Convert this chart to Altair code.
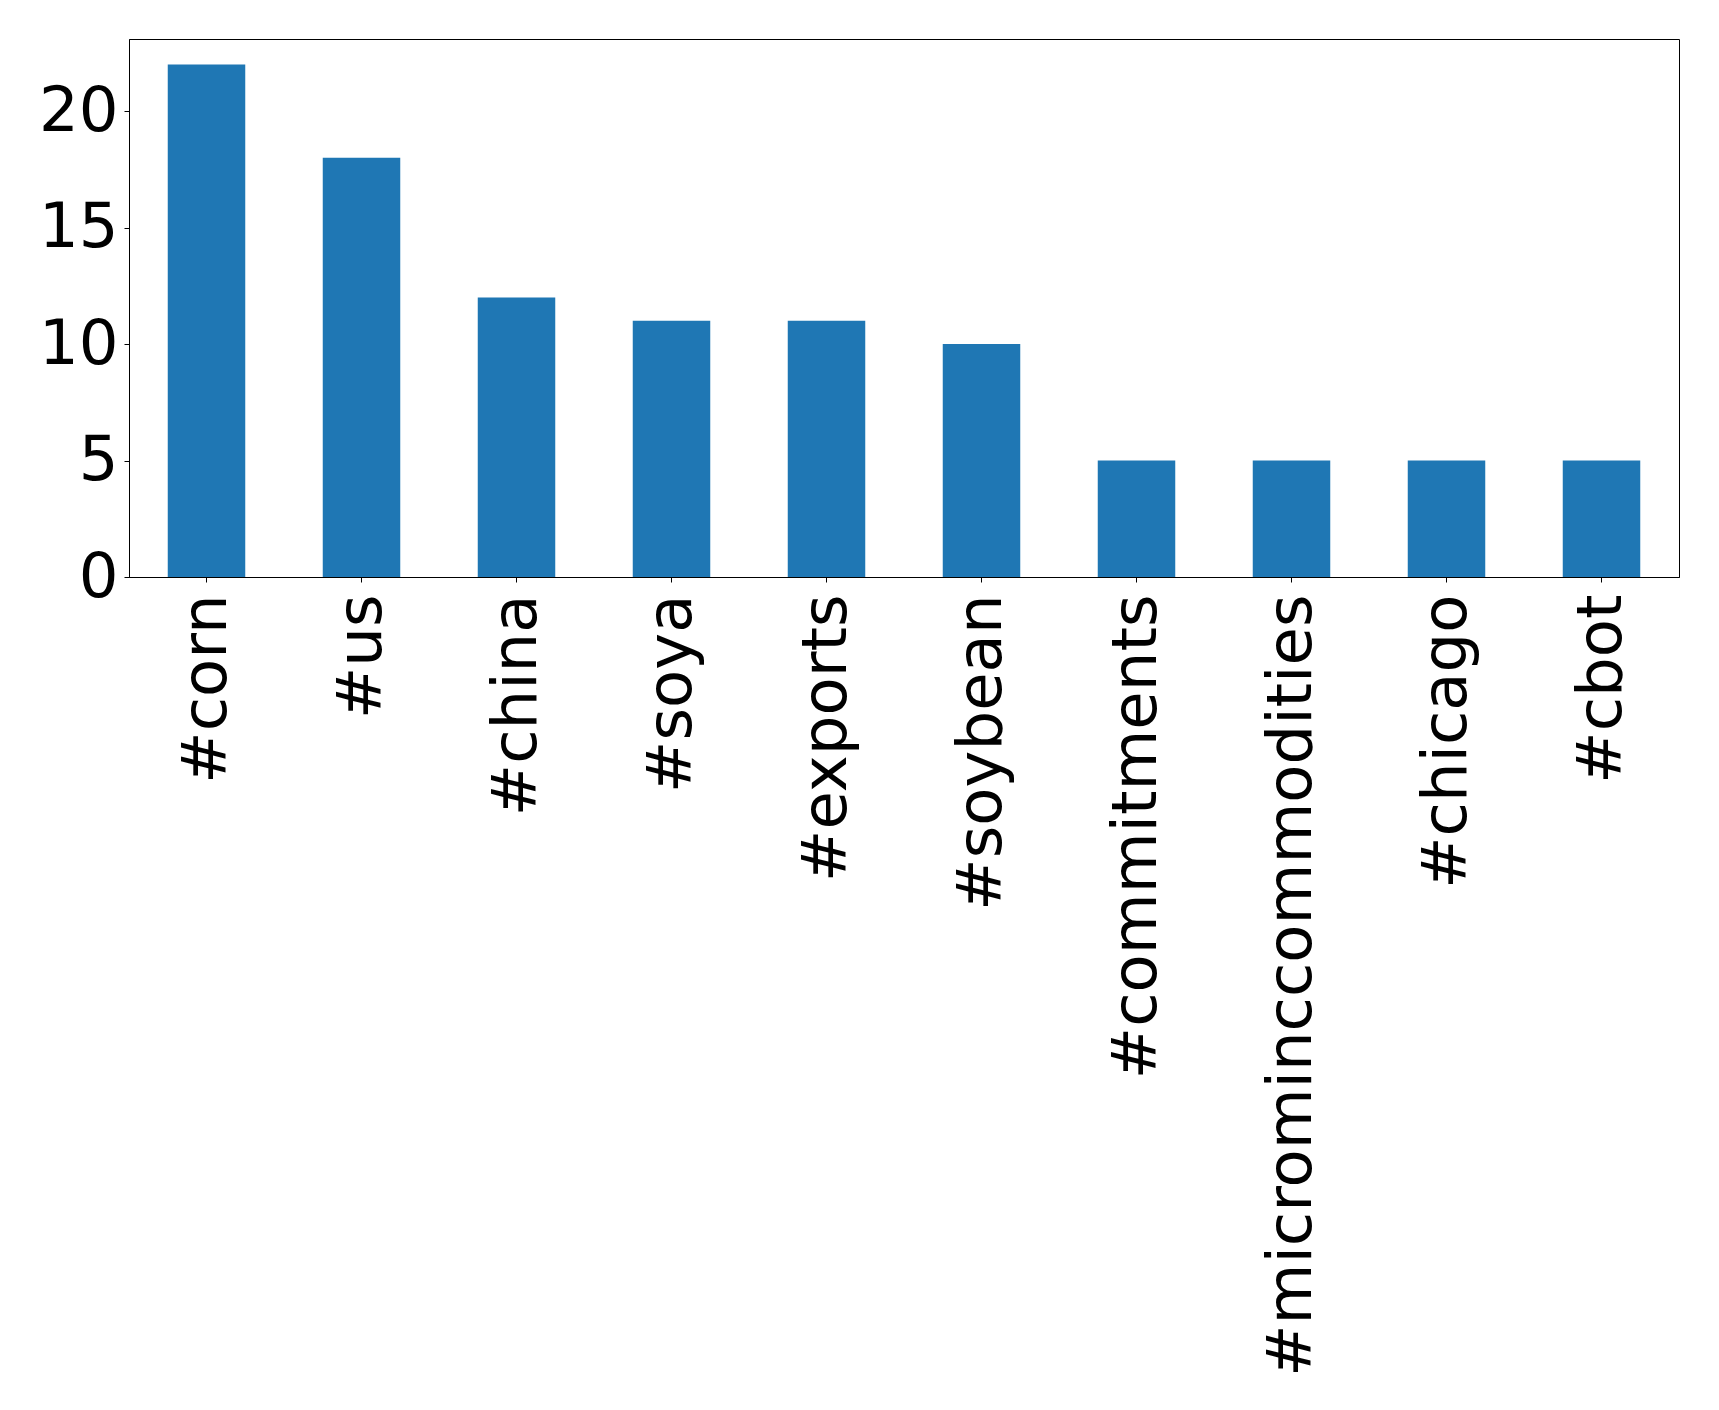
import altair as alt
import pandas as pd

tags = ["#corn", "#us", "#china", "#soya", "#exports", "#soybean",
        "#commitments", "#microminccommodities", "#chicago", "#cbot"]
counts = [22, 18, 12, 11, 11, 10, 5, 5, 5, 5]
y_ticks = [0, 5, 10, 15, 20]

df = pd.DataFrame({"tag": tags, "count": counts})

chart = alt.Chart(df).mark_bar(color="#1f77b4").encode(
    x=alt.X("tag:N", sort=tags,
            scale=alt.Scale(paddingInner=0.5, paddingOuter=0.25),
            axis=alt.Axis(title=None, labelAngle=270, labelFont="DejaVu Sans",
                          labelFontSize=62.5, labelColor="black", labelPadding=12,
                          tickColor="black", tickSize=5, domainColor="black",
                          labelLimit=0)),
    y=alt.Y("count:Q", scale=alt.Scale(domain=[0, 23.1], nice=False, zero=True),
            axis=alt.Axis(title=None, values=y_ticks, labelFont="DejaVu Sans",
                          labelFontSize=62.5, labelColor="black", labelPadding=6,
                          tickColor="black", tickSize=5, domainColor="black",
                          grid=False, labelLimit=0)),
).properties(
    width=1550, height=538,
    autosize=alt.AutoSizeParams(type="none"),
    padding={"left": 121, "top": 31, "right": 30, "bottom": 830},
).configure_view(
    stroke="black", strokeWidth=1
).configure_axis(
    domainWidth=1, tickWidth=1
)

chart.save("out.html", embed_options={"renderer": "svg", "actions": False})
